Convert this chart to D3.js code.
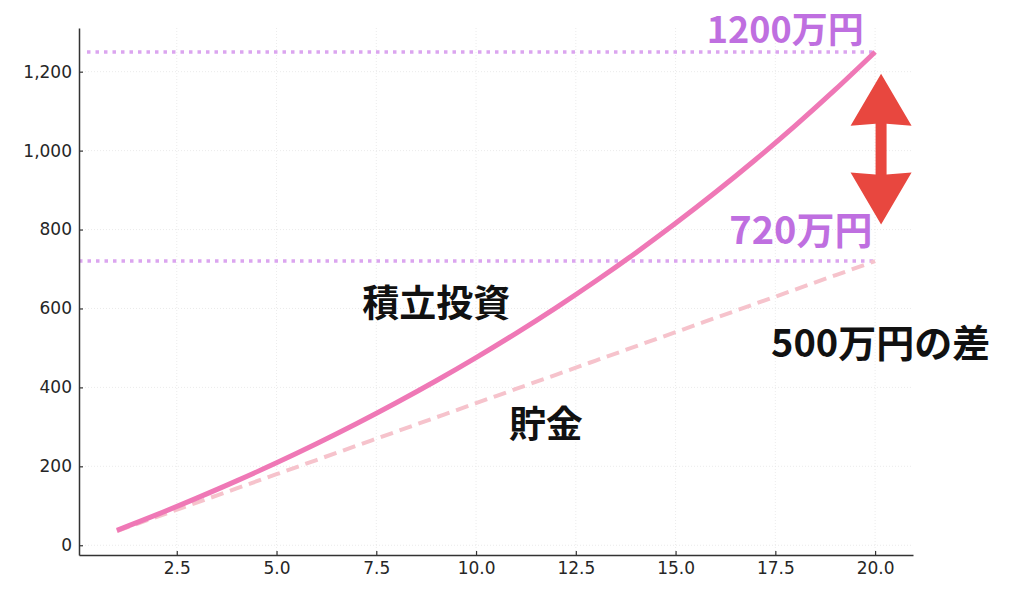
<!DOCTYPE html>
<html>
<head>
<meta charset="utf-8">
<script src="https://cdn.jsdelivr.net/npm/d3@7"></script>
<style>
  html, body { margin: 0; padding: 0; background: #ffffff; }
  svg { display: block; }
</style>
</head>
<body>
<div id="chart"></div>
<script>
// ---- data ----
const years = [1,2,3,4,5,6,7,8,9,10,11,12,13,14,15,16,17,18,19,20];
const investment = [37.8, 77.5, 119.4, 163.1, 208.9, 257.1, 307.8, 361.0, 416.8, 475.4,
                    537.0, 601.7, 669.6, 740.8, 815.7, 894.3, 976.8, 1063.4, 1154.4, 1249.9];
const savings = [36, 72, 108, 144, 180, 216, 252, 288, 324, 360,
                 396, 432, 468, 504, 540, 576, 612, 648, 684, 720];
const xTicks = [2.5, 5.0, 7.5, 10.0, 12.5, 15.0, 17.5, 20.0];
const yTicks = [0, 200, 400, 600, 800, 1000, 1200];
const refValues = [1250, 720];
const refStart = [0.25, 0.05];
const refEnd = [20, 20];
const labelTexts = ["1200万円", "720万円", "積立投資", "貯金", "500万円の差"];
const labelX = [17.75, 18.14, 9.0, 11.75, 20.14];
const labelY = [1272, 763, 578, 271, 478];
const arrowX = 20.15;
const arrowEnds = [1195, 813];

// ---- layout ----
const W = 1024, H = 596;
const plot = { left: 79, right: 913, top: 28, bottom: 555 };

const svg = d3.select("#chart").append("svg")
  .attr("width", W).attr("height", H)
  .style("background", "#ffffff");

const x = d3.scaleLinear().domain([0.05, 20.95]).range([plot.left, plot.right]);
const y = d3.scaleLinear().domain([-24.7, 1310.7]).range([plot.bottom, plot.top]);

// grid
const grid = svg.append("g");
grid.selectAll("line.gx").data(xTicks).join("line")
  .attr("x1", d => x(d)).attr("x2", d => x(d))
  .attr("y1", plot.top).attr("y2", plot.bottom)
  .attr("stroke", "#e6e6e6").attr("stroke-width", 0.8).attr("stroke-dasharray", "1,2");
grid.selectAll("line.gy").data(yTicks).join("line")
  .attr("x1", plot.left).attr("x2", plot.right)
  .attr("y1", d => y(d)).attr("y2", d => y(d))
  .attr("stroke", "#e6e6e6").attr("stroke-width", 0.8).attr("stroke-dasharray", "1,2");

// reference dotted lines
svg.selectAll("line.ref").data(refValues).join("line")
  .attr("x1", (d, i) => x(refStart[i])).attr("x2", (d, i) => x(refEnd[i]))
  .attr("y1", d => y(d)).attr("y2", d => y(d))
  .attr("stroke", "#dba5ef").attr("stroke-width", 3.5)
  .attr("stroke-dasharray", "3.5,5");

// lines
const line = d3.line().x((d, i) => x(years[i])).y(d => y(d)).curve(d3.curveMonotoneX);
svg.append("path").datum(savings)
  .attr("d", line).attr("fill", "none")
  .attr("stroke", "#f6c3cc").attr("stroke-width", 4)
  .attr("stroke-dasharray", "13,7");
svg.append("path").datum(investment)
  .attr("d", line).attr("fill", "none")
  .attr("stroke", "#ef78b6").attr("stroke-width", 5)
  .attr("stroke-linecap", "butt");

// axes
const xAxis = d3.axisBottom(x).tickValues(xTicks).tickFormat(d3.format(".1f"))
  .tickSizeInner(-4).tickSizeOuter(0).tickPadding(7);
const yAxis = d3.axisLeft(y).tickValues(yTicks).tickFormat(d3.format(","))
  .tickSizeInner(-4).tickSizeOuter(0).tickPadding(7);

const gx = svg.append("g").attr("transform", `translate(0,${plot.bottom})`).call(xAxis);
const gy = svg.append("g").attr("transform", `translate(${plot.left},0)`).call(yAxis);
[gx, gy].forEach(g => {
  g.attr("font-size", null).attr("font-family", null);
  g.select(".domain").attr("stroke", "#333").attr("stroke-width", 1.5);
  g.selectAll(".tick line").attr("stroke", "#333").attr("stroke-width", 1.2);
  g.selectAll(".tick text").attr("fill", "#262626")
    .attr("font-family", "DejaVu Sans").attr("font-size", 17);
});

// arrow
const ax = x(arrowX), yTop = y(arrowEnds[0]), yBot = y(arrowEnds[1]);
const headH = 52, headW = 30.5, shaftW = 5.5, notch = 2;
const pts = [
  [ax, yTop],
  [ax + headW, yTop + headH],
  [ax + shaftW, yTop + headH - notch],
  [ax + shaftW, yBot - headH + notch],
  [ax + headW, yBot - headH],
  [ax, yBot],
  [ax - headW, yBot - headH],
  [ax - shaftW, yBot - headH + notch],
  [ax - shaftW, yTop + headH - notch],
  [ax - headW, yTop + headH]
];
svg.append("path").attr("d", d3.line()(pts) + "Z").attr("fill", "#e8473f");

// labels
const labelColor = ["#bf6fe0", "#bf6fe0", "#111", "#111", "#111"];
const labelSize = [36, 38, 37, 37, 38];
svg.selectAll("text.lab").data(labelTexts).join("text")
  .attr("x", (d, i) => x(labelX[i])).attr("y", (d, i) => y(labelY[i]))
  .attr("text-anchor", "middle")
  .attr("fill", (d, i) => labelColor[i])
  .style("font-family", "'Noto Sans CJK JP', sans-serif")
  .style("font-weight", "bold")
  .style("font-size", (d, i) => labelSize[i] + "px")
  .text(d => d);
</script>
</body>
</html>
